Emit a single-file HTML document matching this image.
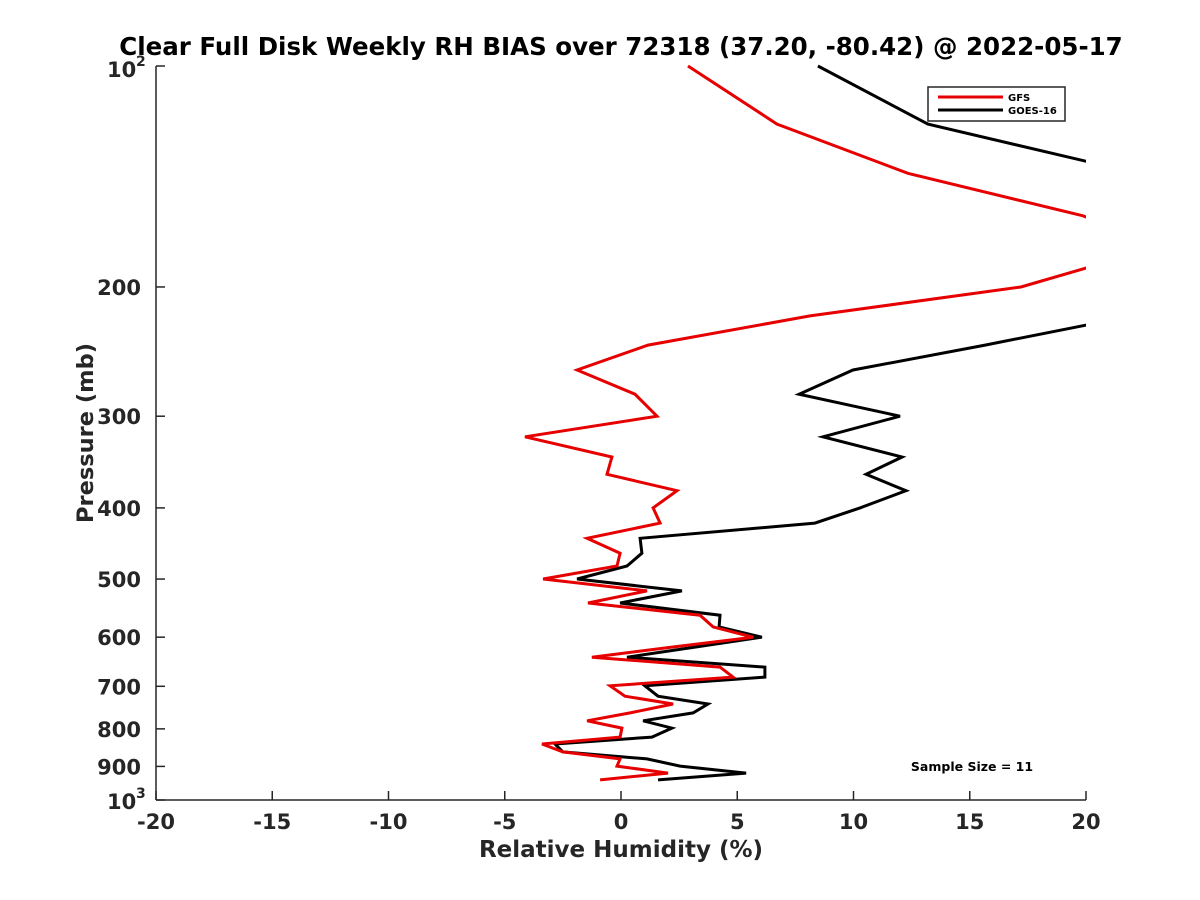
<!DOCTYPE html>
<html><head><meta charset="utf-8"><style>
body{margin:0;background:#fff;}
svg{display:block;font-family:"DejaVu Sans","Liberation Sans",sans-serif;font-weight:bold;}
</style></head><body>
<svg id="chart" width="1200" height="900" viewBox="0 0 1200 900" xmlns="http://www.w3.org/2000/svg">
<rect width="1200" height="900" fill="#fff"/>
<text x="621" y="55" text-anchor="middle" font-size="24.5" fill="#000">Clear Full Disk Weekly RH BIAS over 72318 (37.20, -80.42) @ 2022-05-17</text>
<defs><clipPath id="plotclip"><rect x="156" y="60" width="930" height="745"/></clipPath></defs>
<g id="xaxis"></g>
<g id="yaxis"></g>
<g id="series" clip-path="url(#plotclip)"></g>
<text x="621" y="857" text-anchor="middle" font-size="23" fill="#262626">Relative Humidity (%)</text>
<text transform="translate(93,433) rotate(-90)" text-anchor="middle" font-size="22.5" fill="#262626">Pressure (mb)</text>
<g>
<rect x="928" y="87" width="137" height="34" fill="#fff" stroke="#262626" stroke-width="1.5"/>
<line x1="938" y1="97" x2="1003" y2="97" stroke="#e60000" stroke-width="3"/>
<text x="1008" y="101" font-size="10" fill="#000">GFS</text>
<line x1="938" y1="110" x2="1003" y2="110" stroke="#000" stroke-width="3"/>
<text x="1008" y="114" font-size="10" fill="#000">GOES-16</text>
</g>
<text x="972" y="771" text-anchor="middle" font-size="12.5" fill="#000">Sample Size = 11</text>
</svg>
<script>
const pressure=[100,120,140,160,174,188.5,200,219,240,259.5,280,300,320,341,360,379,400,419.5,440,461,480,500,519,539,560,581,600,619,639,659,680,699,722,740,761,780,798,821,839,860,879,899,919,939];
const gfsBias=[2.88,6.71,12.34,19.87,22.75,20.0,17.2,8.13,1.16,-1.89,0.6,1.55,-4.13,-0.39,-0.6,2.41,1.38,1.68,-1.46,-0.04,-0.17,-3.35,1.12,-1.42,3.4,3.96,5.68,2.19,-1.25,4.26,4.82,-0.47,0.17,2.24,0.39,-1.46,0.04,-0.04,-3.4,-2.5,-0.04,-0.17,2.02,-0.9];
const goesBias=[8.47,13.2,22.2,30,28,25,23,22,15.66,9.98,7.66,12.0,8.69,12.09,10.54,12.26,10.28,8.34,0.82,0.9,0.26,-1.89,2.62,-0.04,4.26,4.22,6.06,3.18,0.26,6.19,6.19,1.03,1.59,3.74,3.1,0.95,2.19,1.33,-2.84,-2.5,1.12,2.54,5.38,1.59];
const xTicks=[-20,-15,-10,-5,0,5,10,15,20];
const yTicks=[200,300,400,500,600,700,800,900];
const X0=156,X1=1086,Y0=66,Y1=800;
const xs=v=>X0+(v+20)/40*(X1-X0);
const ys=p=>Y0+(Math.log10(p)-2)*(Y1-Y0);
const NS='http://www.w3.org/2000/svg';
function mk(t,a,parent){const e=document.createElementNS(NS,t);for(const k in a)e.setAttribute(k,a[k]);parent.appendChild(e);return e;}
const xa=document.getElementById('xaxis'),ya=document.getElementById('yaxis'),sg=document.getElementById('series');
const ax=mk('line',{x1:X0,y1:Y1,x2:X1,y2:Y1,stroke:'#262626','stroke-width':1.5},xa);


const ay=mk('line',{x1:X0,y1:Y0,x2:X0,y2:Y1,stroke:'#262626','stroke-width':1.5},ya);


xTicks.forEach(v=>{
 const x=xs(v);
 mk('line',{x1:x,y1:Y1,x2:x,y2:Y1-9,stroke:'#262626','stroke-width':1.5},xa);
 const t=mk('text',{x:x,y:Y1+29,'text-anchor':'middle','font-size':21,fill:'#262626'},xa);
 t.textContent=v;
 
 
});
[100,1000].concat(yTicks).forEach(p=>{
 const y=ys(p);
 mk('line',{x1:X0,y1:y,x2:X0+9,y2:y,stroke:'#262626','stroke-width':1.5},ya);
});
yTicks.forEach(p=>{
 const t=mk('text',{x:X0-15,y:ys(p)+8,'text-anchor':'end','font-size':21,fill:'#262626'},ya);
 t.textContent=p;
 
 
});
[[100,'2'],[1000,'3']].forEach(([p,e])=>{
 const t=mk('text',{x:X0-49,y:ys(p)+(p===100?11:9),'font-size':21,fill:'#262626'},ya);
 t.textContent='10';
 
 
 const s=mk('text',{x:X0-20,y:ys(p)+(p===100?0:-2),'font-size':14,fill:'#262626'},ya);
 s.textContent=e;
});
function line(vals,color,name){
 const pts=vals.map((v,i)=>xs(v).toFixed(1)+','+ys(pressure[i]).toFixed(1)).join(' ');
 const pl=mk('polyline',{points:pts,fill:'none',stroke:color,'stroke-width':3,'stroke-linejoin':'miter'},sg);
 
 
}
line(goesBias,'#000','goes-16-line');
line(gfsBias,'#e60000','gfs-line');
</script>
</body></html>
